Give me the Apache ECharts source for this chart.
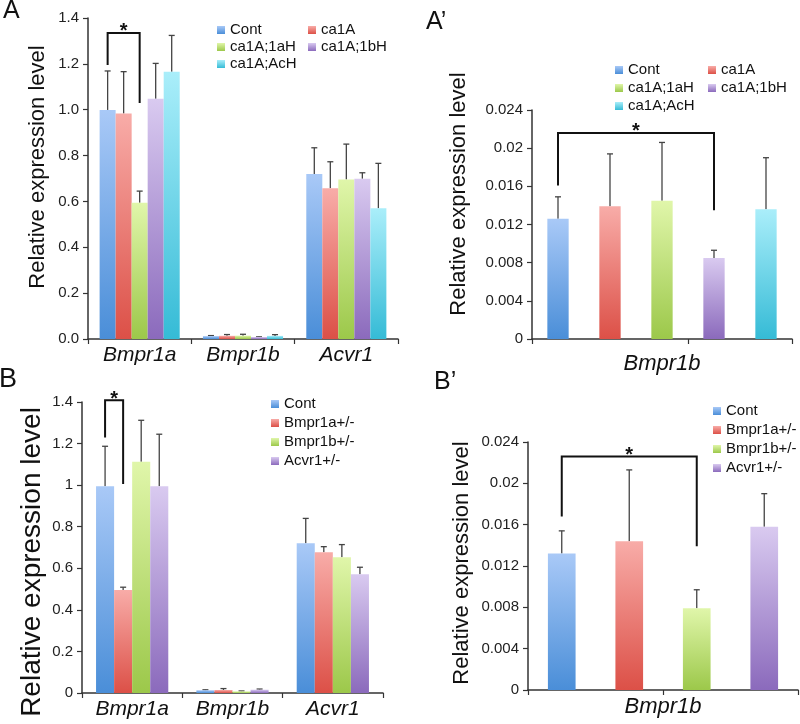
<!DOCTYPE html>
<html>
<head>
<meta charset="utf-8">
<script src="https://cdn.jsdelivr.net/npm/echarts@6/dist/echarts.min.js"></script>
<style>
  html, body { margin: 0; padding: 0; background: #fff; }
  #main { width: 800px; height: 724px; }
</style>
</head>
<body>
<div id="main"></div>
<script>
const genes = ['Bmpr1a', 'Bmpr1b', 'Acvr1']
const groupsA = ['Cont', 'ca1A', 'ca1A;1aH', 'ca1A;1bH', 'ca1A;AcH']
const groupsB = ['Cont', 'Bmpr1a+/-', 'Bmpr1b+/-', 'Acvr1+/-']

// rows = groups, columns = genes
const meanA = [
  [0.999, 0.0126, 0.720],
  [0.984, 0.0139, 0.657],
  [0.594, 0.0145, 0.696],
  [1.048, 0.0085, 0.699],
  [1.166, 0.0136, 0.570]
]
const errTopA = [
  [1.169, 0.0149, 0.834],
  [1.166, 0.0194, 0.773],
  [0.645, 0.0206, 0.850],
  [1.202, 0.0093, 0.725],
  [1.324, 0.0190, 0.766]
]
const meanB = [
  [0.995, 0.0132, 0.720],
  [0.496, 0.0144, 0.677],
  [1.112, 0.0079, 0.653],
  [0.995, 0.0158, 0.571]
]
const errTopB = [
  [1.187, 0.0154, 0.840],
  [0.509, 0.0213, 0.704],
  [1.312, 0.0097, 0.714],
  [1.245, 0.0190, 0.605]
]
// [leftCat, leftBar, leftY, rightCat, rightBar, rightY, topY]
const bracketA = [0, 0, 1.195, 0, 2, 1.029, 1.335]
const bracketA2 = [0, 0, 0.0161, 3, 0, 0.0135, 0.0216]
const bracketB = [0, 0, 1.229, 0, 1, 1.005, 1.408]
const bracketB2 = [0, 0, 0.0168, 2, 0, 0.0139, 0.0226]

const ticksBig = [0, 1.4, 0.2]
const ticksSmall = [0, 0.024, 0.004]

const FONT = 'Liberation Sans, Arial, sans-serif'
const AXIS = '#333'
const palA = [
  ['#a9c9f7', '#4a8ed8'],
  ['#f8aca8', '#dc5047'],
  ['#e0f6aa', '#9cc84a'],
  ['#d9caf0', '#8b6abc'],
  ['#aaeefa', '#35bbd6']
]
const palB = palA.slice(0, 4)

const grad = c => new echarts.graphic.LinearGradient(0, 0, 0, 1, [
  {offset: 0, color: c[0]}, {offset: 1, color: c[1]}
])

const chart = echarts.init(document.getElementById('main'))

const yAxis = (gridIndex, t, fmt) => ({
  type: 'value', gridIndex, min: t[0], max: t[1], interval: t[2],
  splitLine: {show: false},
  axisLine: {show: true, lineStyle: {color: AXIS, width: 1.5}},
  axisTick: {show: true, length: 5, lineStyle: {color: AXIS, width: 1.2}},
  axisLabel: {fontFamily: FONT, fontSize: 15, color: '#222', margin: 9, formatter: fmt}
})

const xAxis = (gridIndex, data, withLabels, name, nameGap) => ({
  type: 'category', gridIndex, data,
  axisLine: {show: true, lineStyle: {color: AXIS, width: 1.5}},
  axisTick: {show: true, length: 5, lineStyle: {color: AXIS, width: 1.2}},
  axisLabel: {show: withLabels, fontFamily: FONT, fontSize: 21, fontStyle: 'italic', color: '#111', margin: 6},
  name, nameLocation: 'middle', nameGap,
  nameTextStyle: {fontFamily: FONT, fontSize: 22, fontStyle: 'italic', color: '#111'}
})

// error bar + bracket renderers; n bars per category, gap = barCategoryGap fraction
const barX = (api, cat, idx, n, gap) => {
  const band = api.size([1, 0])[0]
  const bw = band * (1 - gap) / n
  return api.coord([cat, 0])[0] + (idx - (n - 1) / 2) * bw
}
const errRender = (n, gap) => (params, api) => {
  const cx = barX(api, api.value(0), api.value(1), n, gap)
  const y0 = api.coord([api.value(0), api.value(2)])[1]
  const y1 = api.coord([api.value(0), api.value(3)])[1]
  const st = {stroke: '#444', lineWidth: 1.3}
  return {type: 'group', children: [
    {type: 'line', shape: {x1: cx, y1: y0, x2: cx, y2: y1}, style: st},
    {type: 'line', shape: {x1: cx - 3, y1, x2: cx + 3, y2: y1}, style: st}
  ]}
}
const bracketRender = (n, gap) => (params, api) => {
  const xl = barX(api, api.value(0), api.value(1), n, gap)
  const xr = barX(api, api.value(3), api.value(4), n, gap)
  const yl = api.coord([0, api.value(2)])[1]
  const yr = api.coord([0, api.value(5)])[1]
  const yt = api.coord([0, api.value(6)])[1]
  return {type: 'group', children: [
    {type: 'polyline', shape: {points: [[xl, yl], [xl, yt], [xr, yt], [xr, yr]]},
      style: {stroke: '#111', lineWidth: 2, fill: null}},
    {type: 'text', x: (xl + xr) / 2, y: yt - 1,
      style: {text: '*', fill: '#111', font: 'bold 20px ' + FONT,
        textAlign: 'center', textVerticalAlign: 'middle', align: 'center', verticalAlign: 'middle'}}
  ]}
}

const series = []
// panel A
groupsA.forEach((g, i) => series.push({
  type: 'bar', name: g, xAxisIndex: 0, yAxisIndex: 0, data: meanA[i],
  barGap: '0%', barCategoryGap: '22.5%', itemStyle: {color: grad(palA[i])}
}))
series.push({type: 'custom', xAxisIndex: 0, yAxisIndex: 0, encode: {x: 0, y: 3},
  renderItem: errRender(5, 0.225),
  data: groupsA.flatMap((g, i) => genes.map((_, j) => [j, i, meanA[i][j], errTopA[i][j]]))})
series.push({type: 'custom', xAxisIndex: 0, yAxisIndex: 0, encode: {x: 0, y: 6},
  renderItem: bracketRender(5, 0.225), data: [bracketA]})
// panel A'
groupsA.forEach((g, i) => series.push({
  type: 'bar', name: g, xAxisIndex: 1, yAxisIndex: 1,
  data: groupsA.map((_, k) => k === i ? meanA[i][1] : '-'),
  barGap: '-100%', barCategoryGap: '59%', itemStyle: {color: grad(palA[i])}
}))
series.push({type: 'custom', xAxisIndex: 1, yAxisIndex: 1, encode: {x: 0, y: 3},
  renderItem: errRender(1, 0.59),
  data: groupsA.map((g, i) => [i, 0, meanA[i][1], errTopA[i][1]])})
series.push({type: 'custom', xAxisIndex: 1, yAxisIndex: 1, encode: {x: 0, y: 6},
  renderItem: bracketRender(1, 0.59), data: [bracketA2]})
// panel B
groupsB.forEach((g, i) => series.push({
  type: 'bar', name: g, xAxisIndex: 2, yAxisIndex: 2, data: meanB[i],
  barGap: '0%', barCategoryGap: '28%', itemStyle: {color: grad(palB[i])}
}))
series.push({type: 'custom', xAxisIndex: 2, yAxisIndex: 2, encode: {x: 0, y: 3},
  renderItem: errRender(4, 0.28),
  data: groupsB.flatMap((g, i) => genes.map((_, j) => [j, i, meanB[i][j], errTopB[i][j]]))})
series.push({type: 'custom', xAxisIndex: 2, yAxisIndex: 2, encode: {x: 0, y: 6},
  renderItem: bracketRender(4, 0.28), data: [bracketB]})
// panel B'
groupsB.forEach((g, i) => series.push({
  type: 'bar', name: g, xAxisIndex: 3, yAxisIndex: 3,
  data: groupsB.map((_, k) => k === i ? meanB[i][1] : '-'),
  barGap: '-100%', barCategoryGap: '59%', itemStyle: {color: grad(palB[i])}
}))
series.push({type: 'custom', xAxisIndex: 3, yAxisIndex: 3, encode: {x: 0, y: 3},
  renderItem: errRender(1, 0.59),
  data: groupsB.map((g, i) => [i, 0, meanB[i][1], errTopB[i][1]])})
series.push({type: 'custom', xAxisIndex: 3, yAxisIndex: 3, encode: {x: 0, y: 6},
  renderItem: bracketRender(1, 0.59), data: [bracketB2]})

const legend = (data, left, top, gap) => ({
  data, left, top, orient: 'vertical', icon: 'rect',
  itemWidth: 8, itemHeight: 8, itemGap: gap, padding: 0, selectedMode: false,
  textStyle: {fontFamily: FONT, fontSize: 15, color: '#111', lineHeight: 16}
})

const label = (text, x, y, size) => ({
  type: 'text', x, y,
  style: {text, font: size + 'px ' + FONT, fill: '#111',
    textAlign: 'left', textVerticalAlign: 'top', align: 'left', verticalAlign: 'top'}
})
const yName = (x, y, size) => ({
  type: 'text', x, y, rotation: Math.PI / 2,
  style: {text: 'Relative expression level', font: size + 'px ' + FONT, fill: '#111',
    textAlign: 'center', textVerticalAlign: 'middle', align: 'center', verticalAlign: 'middle'}
})

chart.setOption({
  animation: false,
  grid: [
    {left: 88, top: 18, width: 310, height: 321},
    {left: 532, top: 110, width: 260, height: 229},
    {left: 82, top: 402, width: 301, height: 291},
    {left: 528, top: 442, width: 270, height: 248}
  ],
  xAxis: [
    xAxis(0, genes, true),
    xAxis(1, groupsA, false, 'Bmpr1b', 14),
    xAxis(2, genes, true),
    xAxis(3, groupsB, false, 'Bmpr1b', 6)
  ],
  yAxis: [
    yAxis(0, ticksBig, v => v.toFixed(1)),
    yAxis(1, ticksSmall),
    yAxis(2, ticksBig),
    yAxis(3, ticksSmall)
  ],
  legend: [
    legend(['Cont', 'ca1A;1aH', 'ca1A;AcH'], 217, 22, 1),
    legend(['ca1A', 'ca1A;1bH'], 308, 22, 1),
    legend(['Cont', 'ca1A;1aH', 'ca1A;AcH'], 615, 62, 2),
    legend(['ca1A', 'ca1A;1bH'], 708, 62, 2),
    legend(groupsB, 271, 396, 3),
    legend(groupsB, 713, 403, 3)
  ],
  graphic: [
    label('A', 3, -1, 25),
    label('A\u2019', 426, 10, 25),
    label('B', -1, 366, 27),
    label('B\u2019', 434, 370, 25),
    yName(38, 167, 22),
    yName(459, 194, 22),
    yName(32, 562, 28),
    yName(462, 563, 22)
  ],
  series
})
</script>
</body>
</html>
